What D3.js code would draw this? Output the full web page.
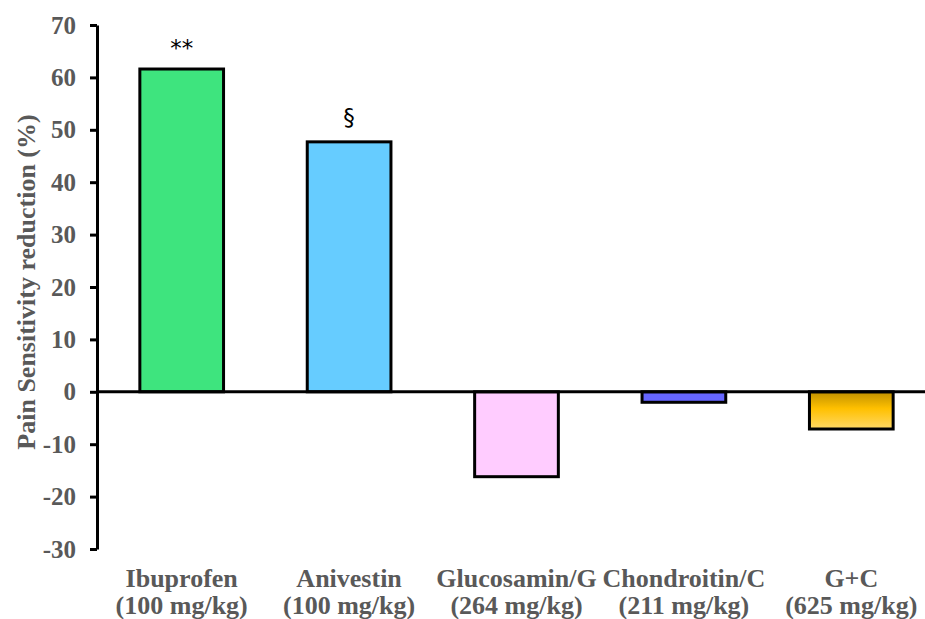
<!DOCTYPE html>
<html lang="en">
<meta charset="utf-8">
<title>Pain Sensitivity reduction</title>
<style>
  body { margin: 0; background: #fff; }
  .axis text { font-family: "Liberation Serif", "Times New Roman", serif; font-weight: bold; font-size: 25px; fill: #595959; }
  .axis path, .axis line { stroke: #000; stroke-width: 3; }
</style>
<body>
<script src="https://d3js.org/d3.v7.min.js"></script>
<script>
  // data
  var names = ["Ibuprofen", "Anivestin", "Glucosamin/G", "Chondroitin/C", "G+C"];
  var doses = ["(100 mg/kg)", "(100 mg/kg)", "(264 mg/kg)", "(211 mg/kg)", "(625 mg/kg)"];
  var values = [61.6, 47.7, -16.2, -2.0, -7.1];
  var marks = ["**", "\u00a7", "", "", ""];
  var yTicks = [-30, -20, -10, 0, 10, 20, 30, 40, 50, 60, 70];

  var colors = ["#3ee47e", "#66ccff", "#ffccff", "#6666ff", "url(#gold)"];

  var width = 925, height = 619;

  var svg = d3.select("body").append("svg")
    .attr("width", width)
    .attr("height", height);

  // gold gradient for the last bar
  var grad = svg.append("defs").append("linearGradient")
    .attr("id", "gold")
    .attr("x1", 0).attr("y1", 0).attr("x2", 0).attr("y2", 1);
  grad.append("stop").attr("offset", "0%").attr("stop-color", "#bf9000");
  grad.append("stop").attr("offset", "45%").attr("stop-color", "#ffc000");
  grad.append("stop").attr("offset", "100%").attr("stop-color", "#ffd966");

  var x = d3.scaleBand().domain(names).range([98, 935]).paddingInner(0.5).paddingOuter(0.25);
  var y = d3.scaleLinear().domain([-30, 70]).range([549, 25]);

  // bars
  svg.selectAll(".bar")
    .data(values)
    .enter().append("rect")
    .attr("class", "bar")
    .attr("x", function(d, i) { return x(names[i]); })
    .attr("width", x.bandwidth())
    .attr("y", function(d) { return y(Math.max(0, d)); })
    .attr("height", function(d) { return Math.abs(y(d) - y(0)); })
    .attr("fill", function(d, i) { return colors[i]; })
    .attr("stroke", "#000")
    .attr("stroke-width", 3);

  // zero line
  svg.append("line")
    .attr("x1", 97).attr("x2", width)
    .attr("y1", y(0)).attr("y2", y(0))
    .attr("stroke", "#000")
    .attr("stroke-width", 3);

  // Y axis (plain hyphen for negatives, like the original)
  svg.append("g")
    .attr("class", "axis")
    .attr("transform", "translate(97,0)")
    .call(d3.axisLeft(y)
      .tickValues(yTicks)
      .tickFormat(function(d) { return String(d); })
      .tickSize(7).tickSizeOuter(0).tickPadding(14));

  // significance marks
  svg.selectAll(".mark")
    .data(values)
    .enter().append("text")
    .attr("class", "mark")
    .attr("x", function(d, i) { return x(names[i]) + x.bandwidth() / 2; })
    .attr("y", function(d, i) { return y(d) - (i === 0 ? 13 : 17); })
    .attr("text-anchor", "middle")
    .style("font-family", "DejaVu Sans, sans-serif")
    .style("font-size", "23px")
    .style("fill", "#000")
    .text(function(d, i) { return marks[i]; });

  // category labels, two lines each
  var cat = svg.selectAll(".cat")
    .data(names)
    .enter().append("text")
    .attr("class", "cat")
    .attr("text-anchor", "middle")
    .style("font-family", "Liberation Serif, Times New Roman, serif")
    .style("font-weight", "bold")
    .style("font-size", "26px")
    .style("fill", "#595959");
  cat.append("tspan")
    .attr("x", function(d) { return x(d) + x.bandwidth() / 2; })
    .attr("y", 587)
    .text(function(d) { return d; });
  cat.append("tspan")
    .attr("x", function(d) { return x(d) + x.bandwidth() / 2; })
    .attr("y", 614)
    .text(function(d, i) { return doses[i]; });

  // Y axis title
  svg.append("text")
    .attr("transform", "translate(35,282) rotate(-90)")
    .attr("text-anchor", "middle")
    .style("font-family", "Liberation Serif, Times New Roman, serif")
    .style("font-weight", "bold")
    .style("font-size", "26px")
    .style("fill", "#595959")
    .text("Pain Sensitivity reduction (%)");
</script>
</body>
</html>
